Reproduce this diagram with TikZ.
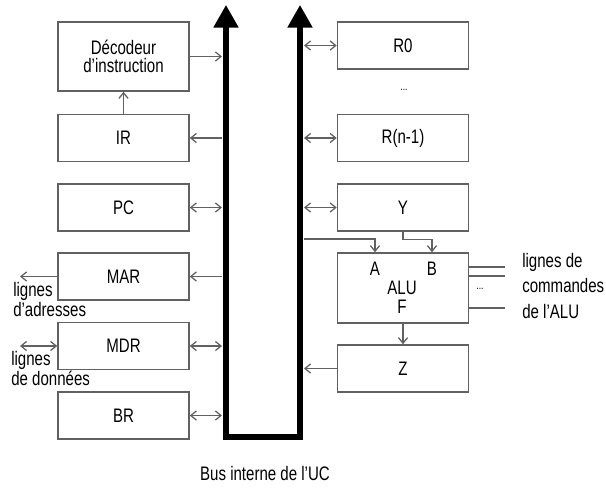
\documentclass[tikz,border=0pt]{standalone}
\usepackage{fontspec}
\setmainfont{Liberation Sans}[FakeStretch=0.77]
\usetikzlibrary{arrows.meta}
\definecolor{boxgray}{gray}{0.38}

\begin{document}
\begin{tikzpicture}[x=0.025cm,y=-0.025cm,>={Straight Barb[length=4pt,width=6.5pt]},
  every node/.style={font=\fontsize{13.9}{12.8}\selectfont},
  reg/.style={draw=boxgray,line width=1.1pt,minimum width=3.275cm,minimum height=1.175cm,inner sep=0pt},
  link/.style={draw=boxgray,line width=0.9pt}]
  \useasboundingbox (0,0) rectangle (606,489);

  % bus interne
  \draw[line width=3.6pt,{Triangle[length=16pt,width=17pt]}-{Triangle[length=16pt,width=17pt]}]
    (226,5) -- (226,437) -- (300,437) -- (300,5);
  \coordinate (busL) at (222,0);
  \coordinate (busR) at (304,0);
  \node (bus) at (265,474) {Bus interne de l'UC};

  % registres de gauche
  \node[reg,minimum height=1.725cm,align=center] (dec) at (123.5,56.5) {Décodeur\\d'instruction};
  \node[reg] (ir)  at (123.5,138)   {IR};
  \node[reg] (pc)  at (123.5,207.5) {PC};
  \node[reg] (mar) at (123.5,276.5) {MAR};
  \node[reg] (mdr) at (123.5,346)   {MDR};
  \node[reg] (br)  at (123.5,415.5) {BR};

  % registres de droite
  \node[reg] (r0)  at (403,45.5)  {R0};
  \node      (dots) at (404,90)   {\fontsize{8}{8}\selectfont ...};
  \node[reg] (rn)  at (403,138)   {R(n-1)};
  \node[reg] (y)   at (403,207.5) {Y};
  \node[reg,minimum height=1.75cm] (alu) at (403,288) {};
  \node (lA)  at (375,269) {A};
  \node (lB)  at (432,269) {B};
  \node (lalu) at (402,288) {ALU};
  \node (lF)  at (402,307) {F};
  \node[reg] (z)   at (403,368.5) {Z};

  % lignes externes
  \coordinate (adr) at (20,276.5);
  \coordinate (don) at (20,346);
  \node[align=left,anchor=north west,inner sep=0pt] (ladr) at (13,282) {lignes\\d'adresses};
  \node[align=left,anchor=north west,inner sep=0pt] (ldon) at (11,351) {lignes\\de données};
  \coordinate (c1) at (505,267);
  \coordinate (c2) at (505,276);
  \coordinate (c3) at (505,308);
  \node (cdots) at (480,289) {\fontsize{8}{8}\selectfont ...};
  \node[align=left,anchor=north west,inner sep=0pt,font=\fontsize{13.9}{18}\selectfont] (lcmd) at (522,253)
    {lignes de\\commandes\\de l'ALU};

  % liaisons avec le bus
  \draw[link,->] (dec.east) -- (dec.east -| busL);
  \draw[link,->] (ir.north) -- (dec.south);
  \draw[link,<-] (ir.east) -- (ir.east -| busL);
  \draw[link,<->] (pc.east) -- (pc.east -| busL);
  \draw[link,<-] (mar.east) -- (mar.east -| busL);
  \draw[link,->] (mar.west) -- (adr);
  \draw[link,<->] (mdr.east) -- (mdr.east -| busL);
  \draw[link,<->] (mdr.west) -- (don);
  \draw[link,<->] (br.east) -- (br.east -| busL);

  \draw[link,<->] (r0.west) -- (r0.west -| busR);
  \draw[link,<->] (rn.west) -- (rn.west -| busR);
  \draw[link,<->] (y.west) -- (y.west -| busR);
  \draw[link,->] (z.west) -- (z.west -| busR);
  \draw[link,->] (busR |- 0,239) -| (lA |- alu.north);
  \draw[link,->] (y.south) -- ++(0,8) -| (lB |- alu.north);
  \draw[link,->] (alu.south) -- (z.north);
  \draw[link] (alu.east |- c1) -- (c1);
  \draw[link] (alu.east |- c2) -- (c2);
  \draw[link] (alu.east |- c3) -- (c3);
\end{tikzpicture}
\end{document}
